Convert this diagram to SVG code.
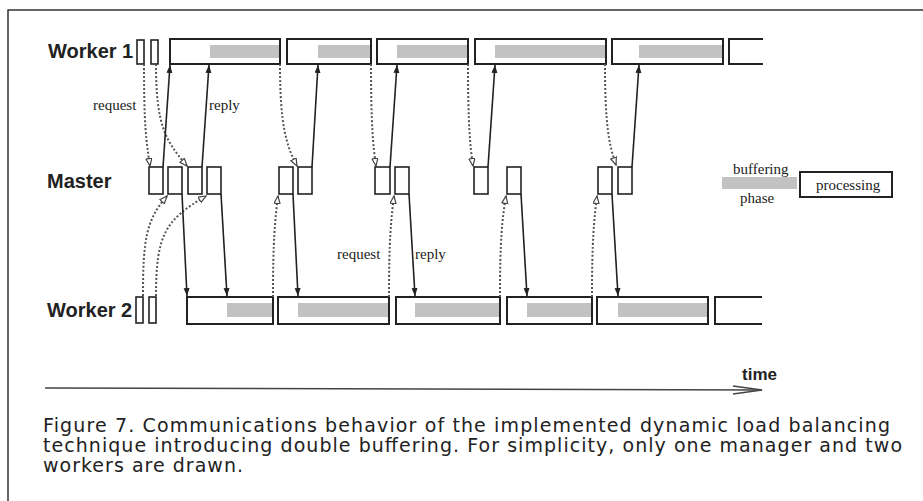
<svg xmlns="http://www.w3.org/2000/svg" width="923" height="501" viewBox="0 0 923 501">
<style>
.bg{fill:#fff}
.frame{fill:none;stroke:#333;stroke-width:1.5}
.lbl{font-family:"Liberation Sans",Arial,sans-serif;font-weight:bold;font-size:20px;fill:#222}
.ser{font-family:"Liberation Serif","Times New Roman",serif;font-size:15px;fill:#222}
.cap{font-family:"DejaVu Sans","Liberation Sans",sans-serif;font-size:19px;fill:#222}
.box{fill:#fff;stroke:#222;stroke-width:2}
.sbox{fill:#fff;stroke:#222;stroke-width:1.6}
.buf{fill:#c2c2c2}
.solid{fill:none;stroke:#222;stroke-width:1.6;marker-end:url(#ah)}
.dot{fill:none;stroke:#555;stroke-width:2;stroke-dasharray:2 2;marker-end:url(#ahd)}
.axis{fill:none;stroke:#444;stroke-width:1.5}
</style>
<defs>
<marker id="ah" markerWidth="9" markerHeight="7" refX="8" refY="3" orient="auto" markerUnits="userSpaceOnUse">
<path d="M0,0 L8,3 L0,6 z" fill="#222"/>
</marker>
<marker id="ahd" markerWidth="9" markerHeight="8" refX="8" refY="3.5" orient="auto" markerUnits="userSpaceOnUse">
<path d="M0.5,0.5 L8,3.5 L0.5,6.5 z" fill="#fff" stroke="#444" stroke-width="1.2"/>
</marker>
</defs>
<rect class="bg" x="0" y="0" width="923" height="501"/>
<path class="frame" d="M8,501 L8,10 L923,10"/>

<g id="worker1">
<text class="lbl" x="48" y="58">Worker 1</text>
<rect class="sbox" x="137" y="40" width="7" height="24"/>
<rect class="sbox" x="151" y="40" width="7" height="24"/>
<rect class="box" x="170" y="39" width="110" height="25"/>
<rect class="buf" x="210" y="45" width="69" height="13"/>
<rect class="box" x="287" y="39" width="84" height="25"/>
<rect class="buf" x="318" y="45" width="52" height="13"/>
<rect class="box" x="377" y="39" width="91" height="25"/>
<rect class="buf" x="397" y="45" width="70" height="13"/>
<rect class="box" x="475" y="39" width="131" height="25"/>
<rect class="buf" x="495" y="45" width="110" height="13"/>
<rect class="box" x="612" y="39" width="111" height="25"/>
<rect class="buf" x="639" y="45" width="83" height="13"/>
<path class="box" d="M763,39 L729,39 L729,64 L763,64" fill="none"/>
</g>

<g id="master">
<text class="lbl" x="47" y="188">Master</text>
<rect class="sbox" x="149" y="167" width="14" height="27"/>
<rect class="sbox" x="168" y="167" width="14" height="27"/>
<rect class="sbox" x="188" y="167" width="14" height="27"/>
<rect class="sbox" x="207" y="167" width="14" height="27"/>
<rect class="sbox" x="279" y="167" width="14" height="27"/>
<rect class="sbox" x="298" y="167" width="14" height="27"/>
<rect class="sbox" x="375" y="167" width="15" height="27"/>
<rect class="sbox" x="395" y="167" width="14" height="27"/>
<rect class="sbox" x="474" y="167" width="14" height="27"/>
<rect class="sbox" x="507" y="167" width="14" height="27"/>
<rect class="sbox" x="598" y="167" width="14" height="27"/>
<rect class="sbox" x="618" y="167" width="14" height="27"/>
</g>

<g id="worker2">
<text class="lbl" x="47" y="317">Worker 2</text>
<rect class="sbox" x="136" y="297" width="7" height="26"/>
<rect class="sbox" x="149" y="297" width="7" height="26"/>
<rect class="box" x="187" y="297" width="86" height="27"/>
<rect class="buf" x="227" y="303" width="45" height="14"/>
<rect class="box" x="278" y="297" width="111" height="27"/>
<rect class="buf" x="298" y="303" width="90" height="14"/>
<rect class="box" x="396" y="297" width="104" height="27"/>
<rect class="buf" x="415" y="303" width="84" height="14"/>
<rect class="box" x="507" y="297" width="85" height="27"/>
<rect class="buf" x="527" y="303" width="64" height="14"/>
<rect class="box" x="597" y="297" width="111" height="27"/>
<rect class="buf" x="618" y="303" width="89" height="14"/>
<path class="box" d="M762,297 L715,297 L715,324 L762,324" fill="none"/>
</g>

<g id="connectors">
<path class="dot" d="M144,64 C144,125 146,140 150,166"/>
<path class="dot" d="M156,64 C156,125 165,140 187,166"/>
<path class="dot" d="M280,64 C280,125 286,145 297,166"/>
<path class="dot" d="M371,64 C371,125 373,145 376,166"/>
<path class="dot" d="M468,64 C468,125 470,145 473,166"/>
<path class="dot" d="M605,64 C605,125 609,145 616,165"/>
<path class="solid" d="M163,167 L170,65"/>
<path class="solid" d="M202,167 L209,65"/>
<path class="solid" d="M312,167 L318,65"/>
<path class="solid" d="M390,167 L397,65"/>
<path class="solid" d="M488,167 L495,65"/>
<path class="solid" d="M632,167 L639,65"/>
<path class="dot" d="M143,296 C143,240 146,220 167,196"/>
<path class="dot" d="M156,296 C156,235 165,220 206,196"/>
<path class="dot" d="M273,297 C273,240 275,220 278,196"/>
<path class="dot" d="M389,297 C389,240 391,220 394,196"/>
<path class="dot" d="M500,297 C500,240 502,220 506,196"/>
<path class="dot" d="M592,297 C592,240 594,220 597,196"/>
<path class="solid" d="M182,194 L187,296"/>
<path class="solid" d="M221,194 L227,296"/>
<path class="solid" d="M293,194 L298,296"/>
<path class="solid" d="M409,194 L415,296"/>
<path class="solid" d="M521,194 L527,296"/>
<path class="solid" d="M612,194 L618,296"/>
</g>

<g id="labels">
<text class="ser" x="93" y="110">request</text>
<text class="ser" x="209" y="110">reply</text>
<text class="ser" x="337" y="259">request</text>
<text class="ser" x="415" y="259">reply</text>
</g>

<g id="legend">
<text class="ser" x="733" y="174">buffering</text>
<rect class="buf" x="722" y="177" width="75" height="12"/>
<text class="ser" x="740" y="203">phase</text>
<rect class="box" x="800" y="172" width="92" height="25"/>
<text class="ser" x="816" y="190">processing</text>
</g>

<g id="time-axis">
<path class="axis" d="M45,388 L762,390"/>
<path class="axis" d="M733,386 L762,390 L733,394"/>
<text class="lbl" x="742" y="380" style="font-size:17px">time</text>
</g>

<g id="caption">
<text class="cap" x="43" y="432" textLength="847" lengthAdjust="spacing">Figure 7. Communications behavior of the implemented dynamic load balancing</text>
<text class="cap" x="43" y="452" textLength="859" lengthAdjust="spacing">technique introducing double buffering. For simplicity, only one manager and two</text>
<text class="cap" x="43" y="472" textLength="200" lengthAdjust="spacing">workers are drawn.</text>
</g>
</svg>
